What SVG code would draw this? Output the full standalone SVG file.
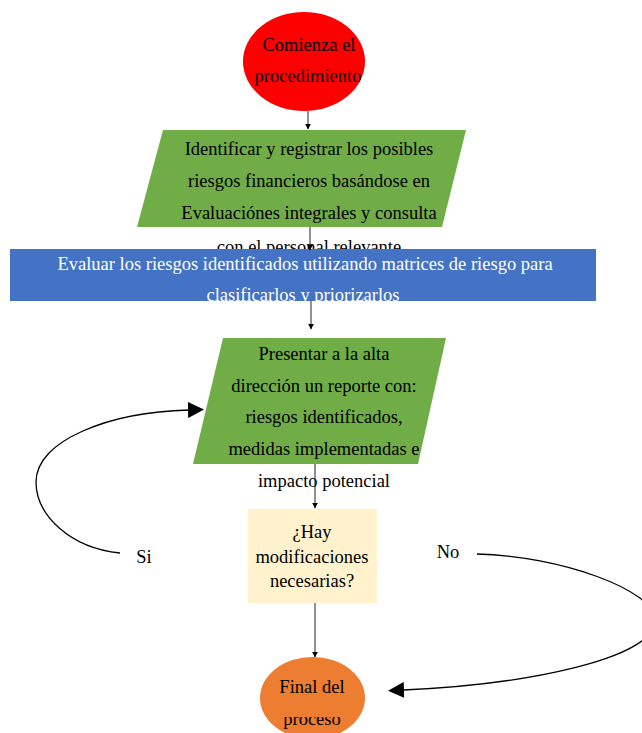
<svg xmlns="http://www.w3.org/2000/svg" width="642" height="733" viewBox="0 0 642 733">
  <style>
    .t { font-family: "Liberation Serif", "Times New Roman", serif; font-size: 18.5px; fill: #000; text-anchor: middle; }
    .w { fill: #fff; }
    .conn { fill: none; stroke: #222; stroke-width: 1; }
    .loop { fill: none; stroke: #000; stroke-width: 1.3; }
  </style>
  <defs>
    <marker id="tip" viewBox="0 0 10 10" refX="9" refY="5" markerWidth="6" markerHeight="6" markerUnits="userSpaceOnUse" orient="auto">
      <path d="M0,0 L10,5 L0,10 Z" fill="#000"/>
    </marker>
    <marker id="bigtip" viewBox="0 0 16 16" refX="1" refY="8" markerWidth="16" markerHeight="16" markerUnits="userSpaceOnUse" orient="auto">
      <path d="M0,0 L16,8 L0,16 Z" fill="#000"/>
    </marker>
    <clipPath id="endClip">
      <rect x="240" y="717" width="150" height="30"/>
    </clipPath>
  </defs>

  <rect width="642" height="733" fill="#fff"/>

  <!-- start -->
  <g id="start">
    <ellipse cx="304" cy="61.5" rx="61" ry="49.5" fill="#ff0000"/>
    <text class="t" x="309" y="51">Comienza el</text>
    <text class="t" x="308" y="82">procedimiento</text>
  </g>

  <!-- identify risks -->
  <g id="identify">
    <polygon points="163,130 466,130 442,227 137,227" fill="#70ad47"/>
    <text class="t" x="309" y="155">Identificar y registrar los posibles</text>
    <text class="t" x="309" y="187">riesgos financieros basándose en</text>
    <text class="t" x="309" y="219">Evaluaciónes integrales y consulta</text>
    <text class="t" x="309" y="253">con el personal relevante</text>
  </g>

  <!-- evaluate risks -->
  <g id="evaluate">
    <rect x="10" y="249" width="586" height="52" fill="#4472c4"/>
    <text class="t w" x="305" y="270">Evaluar los riesgos identificados utilizando matrices de riesgo para</text>
    <text class="t w" x="303" y="301">clasificarlos y priorizarlos</text>
  </g>

  <!-- report -->
  <g id="report">
    <polygon points="223,338 446,338 418,464 193,464" fill="#70ad47"/>
    <text class="t" x="324" y="360">Presentar a la alta</text>
    <text class="t" x="324" y="392">dirección un reporte con:</text>
    <text class="t" x="324" y="423">riesgos identificados,</text>
    <text class="t" x="324" y="455">medidas implementadas e</text>
    <text class="t" x="324" y="487">impacto potencial</text>
  </g>

  <!-- decision -->
  <g id="decision">
    <rect x="248" y="509" width="129" height="94" fill="#fff2cc"/>
    <text class="t" x="312" y="538">¿Hay</text>
    <text class="t" x="312" y="563">modificaciones</text>
    <text class="t" x="312" y="587">necesarias?</text>
  </g>

  <!-- end -->
  <g id="end">
    <ellipse cx="312.5" cy="698" rx="52.5" ry="41" fill="#ed7d31"/>
    <text class="t" x="312" y="693">Final del</text>
    <text class="t" x="312" y="725" clip-path="url(#endClip)">proceso</text>
  </g>

  <!-- labels -->
  <g id="labels">
    <text class="t" x="144" y="563">Si</text>
    <text class="t" x="448" y="558">No</text>
  </g>

  <!-- connectors -->
  <g id="connectors">
    <line class="conn" x1="308" y1="111" x2="308" y2="129" marker-end="url(#tip)"/>
    <line class="conn" x1="310" y1="227" x2="310" y2="250" marker-end="url(#tip)"/>
    <line class="conn" x1="311" y1="301" x2="311" y2="329" marker-end="url(#tip)"/>
    <line class="conn" x1="315" y1="464" x2="315" y2="508" marker-end="url(#tip)"/>
    <line class="conn" x1="315" y1="603" x2="315" y2="657" marker-end="url(#tip)"/>
    <path class="loop" d="M120,553 C70,548 36,515 36,482 C36,440 110,412 189,410" marker-end="url(#bigtip)"/>
    <path class="loop" d="M477,554 C560,556 655,590 655,620 C655,660 520,685 403,690" marker-end="url(#bigtip)"/>
  </g>
</svg>
